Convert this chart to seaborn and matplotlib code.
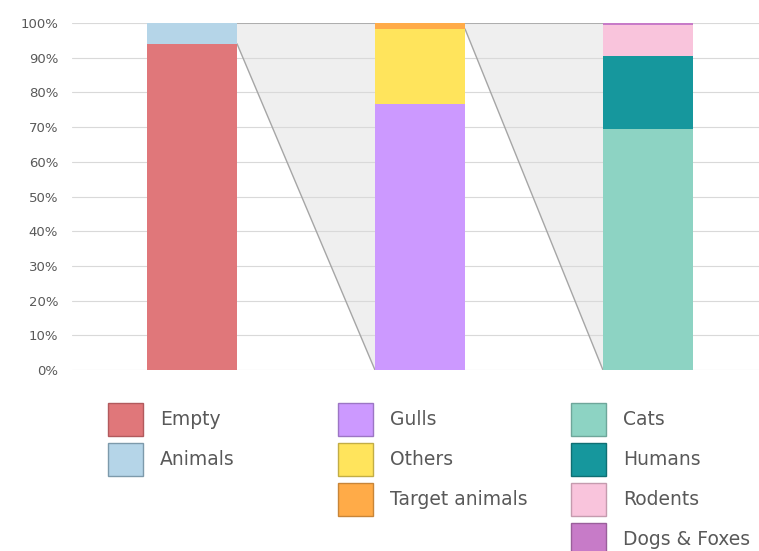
import matplotlib
matplotlib.use("Agg")
import matplotlib.pyplot as plt
from matplotlib.patches import Patch, Polygon
from matplotlib.ticker import PercentFormatter
import seaborn as sns
import pandas as pd
import numpy as np

# Stacked composition of each breakdown (percent, bottom to top)
bars = ["All images", "Animals", "Others"]
seg_bar1 = ["Empty", "Animals"]
val_bar1 = [94.0, 6.0]
seg_bar2 = ["Gulls", "Others", "Target animals"]
val_bar2 = [76.6, 21.7, 1.7]
seg_bar3 = ["Cats", "Humans", "Rodents", "Dogs & Foxes"]
val_bar3 = [69.5, 21.0, 9.0, 0.5]

colors = {
    "Empty": "#e0777a",
    "Animals": "#b5d5e8",
    "Gulls": "#cc99ff",
    "Others": "#ffe45c",
    "Target animals": "#ffab48",
    "Cats": "#8dd3c3",
    "Humans": "#16979d",
    "Rodents": "#f9c4dc",
    "Dogs & Foxes": "#c77bc8",
}
edge_colors = {
    "Empty": "#b25a5d",
    "Animals": "#7d9aab",
    "Gulls": "#9c76c4",
    "Others": "#c2ad46",
    "Target animals": "#c88538",
    "Cats": "#6ea69a",
    "Humans": "#0f6f73",
    "Rodents": "#c59bae",
    "Dogs & Foxes": "#9a5f9b",
}

rows = []
for bar, segs, vals in zip(bars, [seg_bar1, seg_bar2, seg_bar3],
                           [val_bar1, val_bar2, val_bar3]):
    tops = np.cumsum(vals)
    for s, v, t in zip(segs, vals, tops):
        rows.append({"bar": bar, "segment": s, "value": v, "top": t})
df = pd.DataFrame(rows)

sns.set_style("white")
plt.rcParams["font.family"] = ["DejaVu Sans"]

fig = plt.figure(figsize=(7.59, 5.51), dpi=100)
ax = fig.add_axes([0.095, 0.3285, 0.905, 0.6297])

width = 0.395

# Connectors: a slice of one bar expanded into the next bar
def connector(i_from, lo, hi, i_to):
    x1 = i_from + width / 2
    x2 = i_to - width / 2
    poly = Polygon([(x1, lo), (x1, hi), (x2, hi), (x2, 0)], closed=True,
                   facecolor="#efefef", edgecolor="none", zorder=0.5)
    ax.add_patch(poly)
    ax.plot([x1, x2], [lo, 0], color="#a6a6a6", lw=1.0, zorder=0.7)
    ax.plot([x1, x2], [hi, hi], color="#a6a6a6", lw=1.2, zorder=0.7)

connector(0, val_bar1[0], 100, 1)
connector(1, val_bar2[0] + val_bar2[1], 100, 2)

# Horizontal gridlines
for yv in range(0, 101, 10):
    ax.axhline(yv, color="#d9d9d9", lw=0.8, zorder=0.6)

# Stacked bars: draw cumulative heights from the top segment downwards
for bar in bars:
    sub = df[df["bar"] == bar].iloc[::-1]
    for _, r in sub.iterrows():
        sns.barplot(x=[r["bar"]], y=[r["top"]], order=bars,
                    color=colors[r["segment"]], width=width,
                    saturation=1, linewidth=0, ax=ax, zorder=2)

ax.set_xlim(-0.526, 2.487)
ax.set_ylim(0, 100)
ax.set_yticks(range(0, 101, 10))
ax.yaxis.set_major_formatter(PercentFormatter(decimals=0))
ax.tick_params(axis="y", labelsize=9.5, labelcolor="#595959", length=0, pad=10)
ax.set_xticks([])
ax.set_xlabel("")
ax.set_ylabel("")
for sp in ax.spines.values():
    sp.set_visible(False)

# Legends, one column per bar
def column_legend(segs, x):
    handles = [Patch(facecolor=colors[s], edgecolor=edge_colors[s], lw=1.0)
               for s in segs]
    leg = fig.legend(handles, segs, loc="upper left",
                     bbox_to_anchor=(x, 1 - 403 / 551),
                     bbox_transform=fig.transFigure,
                     frameon=False, fontsize=13.5, borderpad=0, borderaxespad=0,
                     handlelength=1.87, handleheight=2.33, labelspacing=0.37,
                     handletextpad=0.9)
    for t in leg.get_texts():
        t.set_color("#595959")
    return leg

column_legend(seg_bar1, 108 / 759)
column_legend(seg_bar2, 338 / 759)
column_legend(seg_bar3, 571 / 759)

fig.savefig("out.png", dpi=100)
